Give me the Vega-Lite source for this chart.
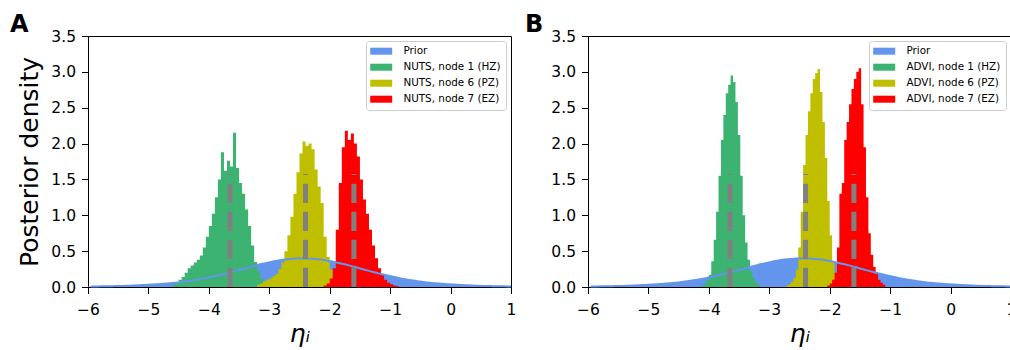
{
  "$schema": "https://vega.github.io/schema/vega-lite/v6.json",
  "background": "white",
  "padding": {"left": 9, "top": 12, "right": 0, "bottom": 0},
  "bounds": "flush",
  "spacing": 77,
  "config": {
    "font": "DejaVu Sans",
    "view": {"stroke": "black", "strokeWidth": 1},
    "axis": {"grid": false, "domainColor": "black", "tickColor": "black", "labelColor": "black", "titleColor": "black", "labelFontSize": 15.5, "tickSize": 6.5, "labelPadding": 6, "titleFontWeight": "normal", "labelFlush": false, "labelOverlap": false, "labelBound": false, "labelFont": "DejaVu Sans", "titleFont": "DejaVu Sans"},
    "legend": {"orient": "top-right", "offset": 5, "title": null, "labelFontSize": 10.4, "labelColor": "black", "labelFont": "DejaVu Sans", "symbolType": "M-2.2,-0.7H2.2V0.7H-2.2Z", "symbolSize": 100, "symbolStrokeWidth": 0, "symbolOpacity": 1, "symbolOffset": 5, "labelOffset": 17, "rowPadding": 5, "padding": 5, "strokeColor": "#cccccc", "fillColor": "white", "cornerRadius": 3},
    "title": {"anchor": "start", "frame": "group", "fontSize": 24, "fontWeight": "bold", "color": "black", "font": "DejaVu Sans"}
  },
  "datasets": {
    "prior": [
      {"s":"Prior","x0":-6.0,"mid":-5.95,"d":0.007},
      {"s":"Prior","x0":-5.9,"mid":-5.85,"d":0.008},
      {"s":"Prior","x0":-5.8,"mid":-5.75,"d":0.009},
      {"s":"Prior","x0":-5.7,"mid":-5.65,"d":0.011},
      {"s":"Prior","x0":-5.6,"mid":-5.55,"d":0.013},
      {"s":"Prior","x0":-5.5,"mid":-5.45,"d":0.015},
      {"s":"Prior","x0":-5.4,"mid":-5.35,"d":0.018},
      {"s":"Prior","x0":-5.3,"mid":-5.25,"d":0.021},
      {"s":"Prior","x0":-5.2,"mid":-5.15,"d":0.025},
      {"s":"Prior","x0":-5.1,"mid":-5.05,"d":0.029},
      {"s":"Prior","x0":-5.0,"mid":-4.95,"d":0.034},
      {"s":"Prior","x0":-4.9,"mid":-4.85,"d":0.039},
      {"s":"Prior","x0":-4.8,"mid":-4.75,"d":0.045},
      {"s":"Prior","x0":-4.7,"mid":-4.65,"d":0.052},
      {"s":"Prior","x0":-4.6,"mid":-4.55,"d":0.060},
      {"s":"Prior","x0":-4.5,"mid":-4.45,"d":0.070},
      {"s":"Prior","x0":-4.4,"mid":-4.35,"d":0.081},
      {"s":"Prior","x0":-4.3,"mid":-4.25,"d":0.094},
      {"s":"Prior","x0":-4.2,"mid":-4.15,"d":0.108},
      {"s":"Prior","x0":-4.1,"mid":-4.05,"d":0.124},
      {"s":"Prior","x0":-4.0,"mid":-3.95,"d":0.142},
      {"s":"Prior","x0":-3.9,"mid":-3.85,"d":0.161},
      {"s":"Prior","x0":-3.8,"mid":-3.75,"d":0.182},
      {"s":"Prior","x0":-3.7,"mid":-3.65,"d":0.203},
      {"s":"Prior","x0":-3.6,"mid":-3.55,"d":0.225},
      {"s":"Prior","x0":-3.5,"mid":-3.45,"d":0.248},
      {"s":"Prior","x0":-3.4,"mid":-3.35,"d":0.272},
      {"s":"Prior","x0":-3.3,"mid":-3.25,"d":0.294},
      {"s":"Prior","x0":-3.2,"mid":-3.15,"d":0.316},
      {"s":"Prior","x0":-3.1,"mid":-3.05,"d":0.336},
      {"s":"Prior","x0":-3.0,"mid":-2.95,"d":0.354},
      {"s":"Prior","x0":-2.9,"mid":-2.85,"d":0.370},
      {"s":"Prior","x0":-2.8,"mid":-2.75,"d":0.382},
      {"s":"Prior","x0":-2.7,"mid":-2.65,"d":0.392},
      {"s":"Prior","x0":-2.6,"mid":-2.55,"d":0.398},
      {"s":"Prior","x0":-2.5,"mid":-2.45,"d":0.400},
      {"s":"Prior","x0":-2.4,"mid":-2.35,"d":0.398},
      {"s":"Prior","x0":-2.3,"mid":-2.25,"d":0.392},
      {"s":"Prior","x0":-2.2,"mid":-2.15,"d":0.382},
      {"s":"Prior","x0":-2.1,"mid":-2.05,"d":0.370},
      {"s":"Prior","x0":-2.0,"mid":-1.95,"d":0.354},
      {"s":"Prior","x0":-1.9,"mid":-1.85,"d":0.336},
      {"s":"Prior","x0":-1.8,"mid":-1.75,"d":0.316},
      {"s":"Prior","x0":-1.7,"mid":-1.65,"d":0.294},
      {"s":"Prior","x0":-1.6,"mid":-1.55,"d":0.272},
      {"s":"Prior","x0":-1.5,"mid":-1.45,"d":0.248},
      {"s":"Prior","x0":-1.4,"mid":-1.35,"d":0.225},
      {"s":"Prior","x0":-1.3,"mid":-1.25,"d":0.203},
      {"s":"Prior","x0":-1.2,"mid":-1.15,"d":0.182},
      {"s":"Prior","x0":-1.1,"mid":-1.05,"d":0.161},
      {"s":"Prior","x0":-1.0,"mid":-0.95,"d":0.142},
      {"s":"Prior","x0":-0.9,"mid":-0.85,"d":0.124},
      {"s":"Prior","x0":-0.8,"mid":-0.75,"d":0.108},
      {"s":"Prior","x0":-0.7,"mid":-0.65,"d":0.094},
      {"s":"Prior","x0":-0.6,"mid":-0.55,"d":0.081},
      {"s":"Prior","x0":-0.5,"mid":-0.45,"d":0.070},
      {"s":"Prior","x0":-0.4,"mid":-0.35,"d":0.060},
      {"s":"Prior","x0":-0.3,"mid":-0.25,"d":0.052},
      {"s":"Prior","x0":-0.2,"mid":-0.15,"d":0.045},
      {"s":"Prior","x0":-0.1,"mid":-0.05,"d":0.039},
      {"s":"Prior","x0":0.0,"mid":0.05,"d":0.034},
      {"s":"Prior","x0":0.1,"mid":0.15,"d":0.029},
      {"s":"Prior","x0":0.2,"mid":0.25,"d":0.025},
      {"s":"Prior","x0":0.3,"mid":0.35,"d":0.021},
      {"s":"Prior","x0":0.4,"mid":0.45,"d":0.018},
      {"s":"Prior","x0":0.5,"mid":0.55,"d":0.015},
      {"s":"Prior","x0":0.6,"mid":0.65,"d":0.013},
      {"s":"Prior","x0":0.7,"mid":0.75,"d":0.011},
      {"s":"Prior","x0":0.8,"mid":0.85,"d":0.009},
      {"s":"Prior","x0":0.9,"mid":0.95,"d":0.008},
      {"s":"Prior","x0":1.0,"mid":1.0,"d":0.007}
    ],
    "truth": [{"x": -3.65}, {"x": -2.4}, {"x": -1.6}],
    "post": [
      {"p":"A","s":"NUTS, node 1 (HZ)","x0":-4.60,"d":0.03},
      {"p":"A","s":"NUTS, node 1 (HZ)","x0":-4.55,"d":0.06},
      {"p":"A","s":"NUTS, node 1 (HZ)","x0":-4.50,"d":0.10},
      {"p":"A","s":"NUTS, node 1 (HZ)","x0":-4.45,"d":0.14},
      {"p":"A","s":"NUTS, node 1 (HZ)","x0":-4.40,"d":0.20},
      {"p":"A","s":"NUTS, node 1 (HZ)","x0":-4.35,"d":0.26},
      {"p":"A","s":"NUTS, node 1 (HZ)","x0":-4.30,"d":0.30},
      {"p":"A","s":"NUTS, node 1 (HZ)","x0":-4.25,"d":0.34},
      {"p":"A","s":"NUTS, node 1 (HZ)","x0":-4.20,"d":0.38},
      {"p":"A","s":"NUTS, node 1 (HZ)","x0":-4.15,"d":0.44},
      {"p":"A","s":"NUTS, node 1 (HZ)","x0":-4.10,"d":0.55},
      {"p":"A","s":"NUTS, node 1 (HZ)","x0":-4.05,"d":0.70},
      {"p":"A","s":"NUTS, node 1 (HZ)","x0":-4.00,"d":0.85},
      {"p":"A","s":"NUTS, node 1 (HZ)","x0":-3.95,"d":1.02},
      {"p":"A","s":"NUTS, node 1 (HZ)","x0":-3.90,"d":1.25},
      {"p":"A","s":"NUTS, node 1 (HZ)","x0":-3.85,"d":1.50},
      {"p":"A","s":"NUTS, node 1 (HZ)","x0":-3.80,"d":1.88},
      {"p":"A","s":"NUTS, node 1 (HZ)","x0":-3.75,"d":1.62},
      {"p":"A","s":"NUTS, node 1 (HZ)","x0":-3.70,"d":1.76},
      {"p":"A","s":"NUTS, node 1 (HZ)","x0":-3.65,"d":1.68},
      {"p":"A","s":"NUTS, node 1 (HZ)","x0":-3.60,"d":2.15},
      {"p":"A","s":"NUTS, node 1 (HZ)","x0":-3.55,"d":1.66},
      {"p":"A","s":"NUTS, node 1 (HZ)","x0":-3.50,"d":1.45},
      {"p":"A","s":"NUTS, node 1 (HZ)","x0":-3.45,"d":1.30},
      {"p":"A","s":"NUTS, node 1 (HZ)","x0":-3.40,"d":1.08},
      {"p":"A","s":"NUTS, node 1 (HZ)","x0":-3.35,"d":0.85},
      {"p":"A","s":"NUTS, node 1 (HZ)","x0":-3.30,"d":0.58},
      {"p":"A","s":"NUTS, node 1 (HZ)","x0":-3.25,"d":0.35},
      {"p":"A","s":"NUTS, node 1 (HZ)","x0":-3.20,"d":0.22},
      {"p":"A","s":"NUTS, node 1 (HZ)","x0":-3.15,"d":0.12},
      {"p":"A","s":"NUTS, node 1 (HZ)","x0":-3.10,"d":0.06},
      {"p":"A","s":"NUTS, node 1 (HZ)","x0":-3.05,"d":0.03},
      {"p":"A","s":"NUTS, node 1 (HZ)","x0":-3.00,"d":0.015},
      {"p":"A","s":"NUTS, node 1 (HZ)","x0":-2.95,"d":0.0},
      {"p":"A","s":"NUTS, node 6 (PZ)","x0":-3.20,"d":0.03},
      {"p":"A","s":"NUTS, node 6 (PZ)","x0":-3.15,"d":0.05},
      {"p":"A","s":"NUTS, node 6 (PZ)","x0":-3.10,"d":0.08},
      {"p":"A","s":"NUTS, node 6 (PZ)","x0":-3.05,"d":0.10},
      {"p":"A","s":"NUTS, node 6 (PZ)","x0":-3.00,"d":0.12},
      {"p":"A","s":"NUTS, node 6 (PZ)","x0":-2.95,"d":0.15},
      {"p":"A","s":"NUTS, node 6 (PZ)","x0":-2.90,"d":0.18},
      {"p":"A","s":"NUTS, node 6 (PZ)","x0":-2.85,"d":0.25},
      {"p":"A","s":"NUTS, node 6 (PZ)","x0":-2.80,"d":0.34},
      {"p":"A","s":"NUTS, node 6 (PZ)","x0":-2.75,"d":0.50},
      {"p":"A","s":"NUTS, node 6 (PZ)","x0":-2.70,"d":0.72},
      {"p":"A","s":"NUTS, node 6 (PZ)","x0":-2.65,"d":0.98},
      {"p":"A","s":"NUTS, node 6 (PZ)","x0":-2.60,"d":1.30},
      {"p":"A","s":"NUTS, node 6 (PZ)","x0":-2.55,"d":1.60},
      {"p":"A","s":"NUTS, node 6 (PZ)","x0":-2.50,"d":1.86},
      {"p":"A","s":"NUTS, node 6 (PZ)","x0":-2.45,"d":2.03},
      {"p":"A","s":"NUTS, node 6 (PZ)","x0":-2.40,"d":1.97},
      {"p":"A","s":"NUTS, node 6 (PZ)","x0":-2.35,"d":2.00},
      {"p":"A","s":"NUTS, node 6 (PZ)","x0":-2.30,"d":1.92},
      {"p":"A","s":"NUTS, node 6 (PZ)","x0":-2.25,"d":1.64},
      {"p":"A","s":"NUTS, node 6 (PZ)","x0":-2.20,"d":1.40},
      {"p":"A","s":"NUTS, node 6 (PZ)","x0":-2.15,"d":1.17},
      {"p":"A","s":"NUTS, node 6 (PZ)","x0":-2.10,"d":0.70},
      {"p":"A","s":"NUTS, node 6 (PZ)","x0":-2.05,"d":0.42},
      {"p":"A","s":"NUTS, node 6 (PZ)","x0":-2.00,"d":0.24},
      {"p":"A","s":"NUTS, node 6 (PZ)","x0":-1.95,"d":0.13},
      {"p":"A","s":"NUTS, node 6 (PZ)","x0":-1.90,"d":0.06},
      {"p":"A","s":"NUTS, node 6 (PZ)","x0":-1.85,"d":0.02},
      {"p":"A","s":"NUTS, node 6 (PZ)","x0":-1.80,"d":0.0},
      {"p":"A","s":"NUTS, node 7 (EZ)","x0":-2.10,"d":0.02},
      {"p":"A","s":"NUTS, node 7 (EZ)","x0":-2.05,"d":0.05},
      {"p":"A","s":"NUTS, node 7 (EZ)","x0":-2.00,"d":0.12},
      {"p":"A","s":"NUTS, node 7 (EZ)","x0":-1.95,"d":0.26},
      {"p":"A","s":"NUTS, node 7 (EZ)","x0":-1.90,"d":0.80},
      {"p":"A","s":"NUTS, node 7 (EZ)","x0":-1.85,"d":1.45},
      {"p":"A","s":"NUTS, node 7 (EZ)","x0":-1.80,"d":1.95},
      {"p":"A","s":"NUTS, node 7 (EZ)","x0":-1.75,"d":2.18},
      {"p":"A","s":"NUTS, node 7 (EZ)","x0":-1.70,"d":2.05},
      {"p":"A","s":"NUTS, node 7 (EZ)","x0":-1.65,"d":2.14},
      {"p":"A","s":"NUTS, node 7 (EZ)","x0":-1.60,"d":2.00},
      {"p":"A","s":"NUTS, node 7 (EZ)","x0":-1.55,"d":1.82},
      {"p":"A","s":"NUTS, node 7 (EZ)","x0":-1.50,"d":1.50},
      {"p":"A","s":"NUTS, node 7 (EZ)","x0":-1.45,"d":1.22},
      {"p":"A","s":"NUTS, node 7 (EZ)","x0":-1.40,"d":1.02},
      {"p":"A","s":"NUTS, node 7 (EZ)","x0":-1.35,"d":0.80},
      {"p":"A","s":"NUTS, node 7 (EZ)","x0":-1.30,"d":0.58},
      {"p":"A","s":"NUTS, node 7 (EZ)","x0":-1.25,"d":0.40},
      {"p":"A","s":"NUTS, node 7 (EZ)","x0":-1.20,"d":0.26},
      {"p":"A","s":"NUTS, node 7 (EZ)","x0":-1.15,"d":0.17},
      {"p":"A","s":"NUTS, node 7 (EZ)","x0":-1.10,"d":0.10},
      {"p":"A","s":"NUTS, node 7 (EZ)","x0":-1.05,"d":0.06},
      {"p":"A","s":"NUTS, node 7 (EZ)","x0":-1.00,"d":0.04},
      {"p":"A","s":"NUTS, node 7 (EZ)","x0":-0.95,"d":0.02},
      {"p":"A","s":"NUTS, node 7 (EZ)","x0":-0.90,"d":0.01},
      {"p":"A","s":"NUTS, node 7 (EZ)","x0":-0.85,"d":0.0},
      {"p":"B","s":"ADVI, node 1 (HZ)","x0":-4.12,"d":0.02},
      {"p":"B","s":"ADVI, node 1 (HZ)","x0":-4.08,"d":0.05},
      {"p":"B","s":"ADVI, node 1 (HZ)","x0":-4.04,"d":0.09},
      {"p":"B","s":"ADVI, node 1 (HZ)","x0":-4.00,"d":0.17},
      {"p":"B","s":"ADVI, node 1 (HZ)","x0":-3.96,"d":0.36},
      {"p":"B","s":"ADVI, node 1 (HZ)","x0":-3.92,"d":0.66},
      {"p":"B","s":"ADVI, node 1 (HZ)","x0":-3.88,"d":1.05},
      {"p":"B","s":"ADVI, node 1 (HZ)","x0":-3.84,"d":1.55},
      {"p":"B","s":"ADVI, node 1 (HZ)","x0":-3.80,"d":2.05},
      {"p":"B","s":"ADVI, node 1 (HZ)","x0":-3.76,"d":2.40},
      {"p":"B","s":"ADVI, node 1 (HZ)","x0":-3.72,"d":2.70},
      {"p":"B","s":"ADVI, node 1 (HZ)","x0":-3.68,"d":2.82},
      {"p":"B","s":"ADVI, node 1 (HZ)","x0":-3.64,"d":2.95},
      {"p":"B","s":"ADVI, node 1 (HZ)","x0":-3.60,"d":2.86},
      {"p":"B","s":"ADVI, node 1 (HZ)","x0":-3.56,"d":2.58},
      {"p":"B","s":"ADVI, node 1 (HZ)","x0":-3.52,"d":2.12},
      {"p":"B","s":"ADVI, node 1 (HZ)","x0":-3.48,"d":1.55},
      {"p":"B","s":"ADVI, node 1 (HZ)","x0":-3.44,"d":1.00},
      {"p":"B","s":"ADVI, node 1 (HZ)","x0":-3.40,"d":0.62},
      {"p":"B","s":"ADVI, node 1 (HZ)","x0":-3.36,"d":0.38},
      {"p":"B","s":"ADVI, node 1 (HZ)","x0":-3.32,"d":0.22},
      {"p":"B","s":"ADVI, node 1 (HZ)","x0":-3.28,"d":0.13},
      {"p":"B","s":"ADVI, node 1 (HZ)","x0":-3.24,"d":0.07},
      {"p":"B","s":"ADVI, node 1 (HZ)","x0":-3.20,"d":0.03},
      {"p":"B","s":"ADVI, node 1 (HZ)","x0":-3.16,"d":0.0},
      {"p":"B","s":"ADVI, node 6 (PZ)","x0":-2.72,"d":0.02},
      {"p":"B","s":"ADVI, node 6 (PZ)","x0":-2.68,"d":0.04},
      {"p":"B","s":"ADVI, node 6 (PZ)","x0":-2.64,"d":0.07},
      {"p":"B","s":"ADVI, node 6 (PZ)","x0":-2.60,"d":0.13},
      {"p":"B","s":"ADVI, node 6 (PZ)","x0":-2.56,"d":0.24},
      {"p":"B","s":"ADVI, node 6 (PZ)","x0":-2.52,"d":0.55},
      {"p":"B","s":"ADVI, node 6 (PZ)","x0":-2.48,"d":1.05},
      {"p":"B","s":"ADVI, node 6 (PZ)","x0":-2.44,"d":1.70},
      {"p":"B","s":"ADVI, node 6 (PZ)","x0":-2.40,"d":2.12},
      {"p":"B","s":"ADVI, node 6 (PZ)","x0":-2.36,"d":2.45},
      {"p":"B","s":"ADVI, node 6 (PZ)","x0":-2.32,"d":2.70},
      {"p":"B","s":"ADVI, node 6 (PZ)","x0":-2.28,"d":2.90},
      {"p":"B","s":"ADVI, node 6 (PZ)","x0":-2.24,"d":2.98},
      {"p":"B","s":"ADVI, node 6 (PZ)","x0":-2.20,"d":3.04},
      {"p":"B","s":"ADVI, node 6 (PZ)","x0":-2.16,"d":2.72},
      {"p":"B","s":"ADVI, node 6 (PZ)","x0":-2.12,"d":2.30},
      {"p":"B","s":"ADVI, node 6 (PZ)","x0":-2.08,"d":1.80},
      {"p":"B","s":"ADVI, node 6 (PZ)","x0":-2.04,"d":1.20},
      {"p":"B","s":"ADVI, node 6 (PZ)","x0":-2.00,"d":0.72},
      {"p":"B","s":"ADVI, node 6 (PZ)","x0":-1.96,"d":0.36},
      {"p":"B","s":"ADVI, node 6 (PZ)","x0":-1.92,"d":0.18},
      {"p":"B","s":"ADVI, node 6 (PZ)","x0":-1.88,"d":0.08},
      {"p":"B","s":"ADVI, node 6 (PZ)","x0":-1.84,"d":0.03},
      {"p":"B","s":"ADVI, node 6 (PZ)","x0":-1.80,"d":0.0},
      {"p":"B","s":"ADVI, node 7 (EZ)","x0":-2.04,"d":0.02},
      {"p":"B","s":"ADVI, node 7 (EZ)","x0":-2.00,"d":0.05},
      {"p":"B","s":"ADVI, node 7 (EZ)","x0":-1.96,"d":0.10},
      {"p":"B","s":"ADVI, node 7 (EZ)","x0":-1.92,"d":0.20},
      {"p":"B","s":"ADVI, node 7 (EZ)","x0":-1.88,"d":0.55},
      {"p":"B","s":"ADVI, node 7 (EZ)","x0":-1.84,"d":1.30},
      {"p":"B","s":"ADVI, node 7 (EZ)","x0":-1.80,"d":1.45},
      {"p":"B","s":"ADVI, node 7 (EZ)","x0":-1.76,"d":2.05},
      {"p":"B","s":"ADVI, node 7 (EZ)","x0":-1.72,"d":2.30},
      {"p":"B","s":"ADVI, node 7 (EZ)","x0":-1.68,"d":2.55},
      {"p":"B","s":"ADVI, node 7 (EZ)","x0":-1.64,"d":2.76},
      {"p":"B","s":"ADVI, node 7 (EZ)","x0":-1.60,"d":2.90},
      {"p":"B","s":"ADVI, node 7 (EZ)","x0":-1.56,"d":3.00},
      {"p":"B","s":"ADVI, node 7 (EZ)","x0":-1.52,"d":3.05},
      {"p":"B","s":"ADVI, node 7 (EZ)","x0":-1.48,"d":2.55},
      {"p":"B","s":"ADVI, node 7 (EZ)","x0":-1.44,"d":1.95},
      {"p":"B","s":"ADVI, node 7 (EZ)","x0":-1.40,"d":1.25},
      {"p":"B","s":"ADVI, node 7 (EZ)","x0":-1.36,"d":0.75},
      {"p":"B","s":"ADVI, node 7 (EZ)","x0":-1.32,"d":0.45},
      {"p":"B","s":"ADVI, node 7 (EZ)","x0":-1.28,"d":0.28},
      {"p":"B","s":"ADVI, node 7 (EZ)","x0":-1.24,"d":0.18},
      {"p":"B","s":"ADVI, node 7 (EZ)","x0":-1.20,"d":0.10},
      {"p":"B","s":"ADVI, node 7 (EZ)","x0":-1.16,"d":0.06},
      {"p":"B","s":"ADVI, node 7 (EZ)","x0":-1.12,"d":0.03},
      {"p":"B","s":"ADVI, node 7 (EZ)","x0":-1.08,"d":0.0}
    ]
  },
  "resolve": {"scale": {"color": "independent"}},
  "hconcat": [
    {
      "width": 423,
      "height": 251,
      "title": {"text": "A", "dx": -78, "dy": 11.5},
      "layer": [
        {
          "data": {"name": "prior"},
          "mark": {"type": "area", "interpolate": "step-after"},
          "encoding": {
            "x": {"field": "x0", "type": "quantitative", "scale": {"domain": [-6, 1], "nice": false}, "axis": {"values": [-6, -5, -4, -3, -2, -1, 0, 1], "format": "d", "labelPadding": 8.5, "title": "ηᵢ", "titleFontSize": 25, "titleFontStyle": "italic", "titlePadding": 4}},
            "y": {"field": "d", "type": "quantitative", "stack": null, "scale": {"domain": [0, 3.5], "nice": false}, "axis": {"values": [0, 0.5, 1, 1.5, 2, 2.5, 3, 3.5], "tickCount": 8, "labelOverlap": false, "format": ".1f", "title": "Posterior density", "titleFontSize": 25, "titlePadding": 8}},
            "color": {"field": "s", "type": "nominal", "scale": {"domain": ["Prior", "NUTS, node 1 (HZ)", "NUTS, node 6 (PZ)", "NUTS, node 7 (EZ)"], "range": ["#6495ED", "#3CB371", "#BFBF00", "#FF0000"]}}
          }
        },
        {
          "data": {"name": "post"},
          "transform": [{"filter": "datum.p === 'A'"}],
          "mark": {"type": "area", "interpolate": "step-after"},
          "encoding": {
            "x": {"field": "x0", "type": "quantitative"},
            "y": {"field": "d", "type": "quantitative", "stack": null},
            "color": {"field": "s", "type": "nominal"}
          }
        },
        {
          "data": {"name": "prior"},
          "mark": {"type": "line", "color": "#6495ED", "strokeWidth": 2, "interpolate": "monotone"},
          "encoding": {
            "x": {"field": "mid", "type": "quantitative"},
            "y": {"field": "d", "type": "quantitative"}
          }
        },
        {
          "data": {"name": "truth"},
          "mark": {"type": "rule", "color": "#808080", "strokeWidth": 5, "strokeDash": [19.3, 8.7], "strokeCap": "butt"},
          "encoding": {
            "x": {"field": "x", "type": "quantitative"},
            "y": {"datum": 0},
            "y2": {"datum": 1.575}
          }
        }
      ]
    },
    {
      "width": 423,
      "height": 251,
      "title": {"text": "B", "dx": -63, "dy": 11.5},
      "layer": [
        {
          "data": {"name": "prior"},
          "mark": {"type": "area", "interpolate": "step-after"},
          "encoding": {
            "x": {"field": "x0", "type": "quantitative", "scale": {"domain": [-6, 1], "nice": false}, "axis": {"values": [-6, -5, -4, -3, -2, -1, 0, 1], "format": "d", "labelPadding": 8.5, "title": "ηᵢ", "titleFontSize": 25, "titleFontStyle": "italic", "titlePadding": 4}},
            "y": {"field": "d", "type": "quantitative", "stack": null, "scale": {"domain": [0, 3.5], "nice": false}, "axis": {"values": [0, 0.5, 1, 1.5, 2, 2.5, 3, 3.5], "tickCount": 8, "labelOverlap": false, "format": ".1f", "title": null}},
            "color": {"field": "s", "type": "nominal", "scale": {"domain": ["Prior", "ADVI, node 1 (HZ)", "ADVI, node 6 (PZ)", "ADVI, node 7 (EZ)"], "range": ["#6495ED", "#3CB371", "#BFBF00", "#FF0000"]}}
          }
        },
        {
          "data": {"name": "post"},
          "transform": [{"filter": "datum.p === 'B'"}],
          "mark": {"type": "area", "interpolate": "step-after"},
          "encoding": {
            "x": {"field": "x0", "type": "quantitative"},
            "y": {"field": "d", "type": "quantitative", "stack": null},
            "color": {"field": "s", "type": "nominal"}
          }
        },
        {
          "data": {"name": "prior"},
          "mark": {"type": "line", "color": "#6495ED", "strokeWidth": 2, "interpolate": "monotone"},
          "encoding": {
            "x": {"field": "mid", "type": "quantitative"},
            "y": {"field": "d", "type": "quantitative"}
          }
        },
        {
          "data": {"name": "truth"},
          "mark": {"type": "rule", "color": "#808080", "strokeWidth": 5, "strokeDash": [19.3, 8.7], "strokeCap": "butt"},
          "encoding": {
            "x": {"field": "x", "type": "quantitative"},
            "y": {"datum": 0},
            "y2": {"datum": 1.575}
          }
        }
      ]
    }
  ]
}
